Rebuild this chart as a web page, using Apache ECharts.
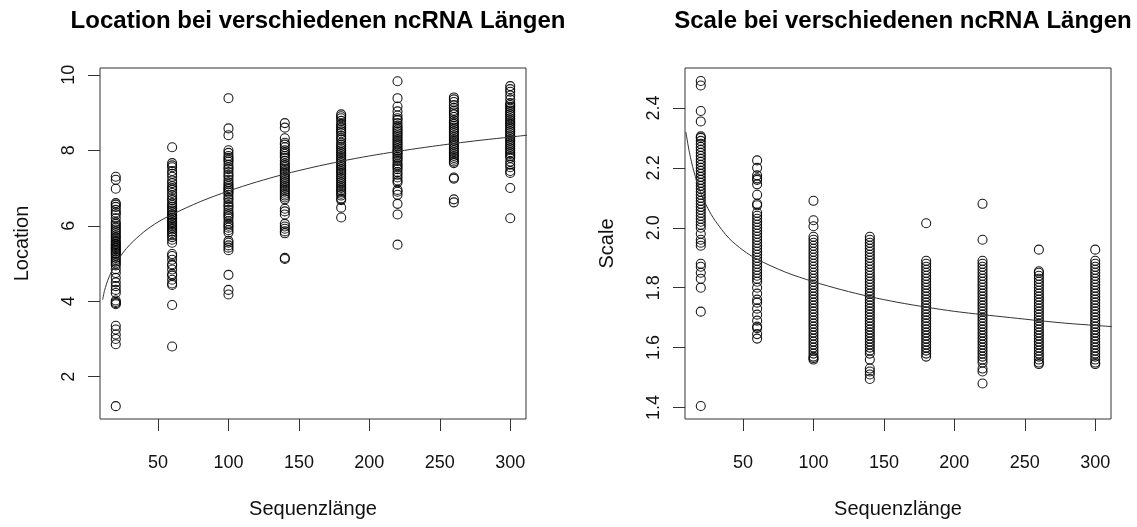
<!DOCTYPE html>
<html>
<head>
<meta charset="utf-8">
<script src="https://cdn.jsdelivr.net/npm/echarts@6/dist/echarts.min.js"></script>
<style>
html,body{margin:0;padding:0;background:#fff;}
#chart{width:1137px;height:527px;}
</style>
</head>
<body>
<div id="chart"></div>
<script>
// ---- data ----
const lengths = [20, 60, 100, 140, 180, 220, 260, 300];
const xTicks = [50, 100, 150, 200, 250, 300];
const locTicks = [2, 4, 6, 8, 10];
const scaleTicks = [1.4, 1.6, 1.8, 2.0, 2.2, 2.4];

const loc20 = [7.3, 7.22, 6.98, 6.6, 6.56, 6.5, 6.42, 6.35, 6.3, 6.2, 6.1, 6.05, 6.0, 5.95, 5.9, 5.85, 5.8, 5.75, 5.7, 5.66, 5.6, 5.56, 5.52, 5.5, 5.46, 5.42, 5.4, 5.36, 5.32, 5.28, 5.25, 5.2, 5.15, 5.1, 5.05, 5.0, 4.95, 4.85, 4.75, 4.62, 4.5, 4.4, 4.3, 4.22, 4.02, 3.98, 3.95, 3.92, 3.35, 3.25, 3.12, 3.0, 2.86, 1.22];
const loc60 = [8.08, 7.66, 7.6, 7.55, 7.45, 7.38, 7.3, 7.2, 7.13, 7.05, 7.0, 6.95, 6.87, 6.8, 6.73, 6.68, 6.6, 6.55, 6.5, 6.45, 6.4, 6.35, 6.3, 6.27, 6.22, 6.2, 6.15, 6.1, 6.07, 6.02, 5.98, 5.94, 5.9, 5.85, 5.81, 5.75, 5.7, 5.63, 5.55, 5.25, 5.2, 5.1, 4.98, 4.95, 4.84, 4.72, 4.68, 4.57, 4.47, 4.43, 3.9, 2.8];
const loc100 = [9.38, 8.58, 8.4, 8.0, 7.93, 7.85, 7.8, 7.75, 7.7, 7.62, 7.55, 7.5, 7.42, 7.35, 7.3, 7.22, 7.15, 7.1, 7.05, 7.0, 6.97, 6.92, 6.88, 6.82, 6.75, 6.7, 6.62, 6.55, 6.5, 6.42, 6.35, 6.3, 6.25, 6.2, 6.12, 6.05, 6.0, 5.95, 5.88, 5.82, 5.6, 5.55, 5.48, 5.42, 5.35, 4.7, 4.3, 4.18];
const loc140 = [8.72, 8.6, 8.32, 8.2, 8.15, 8.08, 8.0, 7.95, 7.9, 7.85, 7.8, 7.72, 7.65, 7.6, 7.55, 7.5, 7.45, 7.4, 7.35, 7.3, 7.25, 7.2, 7.15, 7.1, 7.05, 7.0, 6.95, 6.9, 6.85, 6.8, 6.75, 6.7, 6.45, 6.38, 6.3, 6.05, 5.98, 5.92, 5.85, 5.8, 5.15, 5.12];
const loc180 = [8.95, 8.9, 8.85, 8.78, 8.7, 8.65, 8.6, 8.55, 8.5, 8.45, 8.38, 8.32, 8.28, 8.2, 8.15, 8.1, 8.05, 8.0, 7.95, 7.9, 7.85, 7.8, 7.75, 7.7, 7.65, 7.6, 7.55, 7.5, 7.45, 7.4, 7.35, 7.3, 7.25, 7.2, 7.15, 7.1, 7.05, 7.0, 6.95, 6.9, 6.85, 6.8, 6.72, 6.68, 6.48, 6.22];
const loc220 = [9.83, 9.38, 9.16, 9.03, 8.92, 8.85, 8.8, 8.72, 8.65, 8.6, 8.55, 8.5, 8.45, 8.4, 8.35, 8.3, 8.25, 8.2, 8.15, 8.1, 8.05, 8.0, 7.97, 7.92, 7.88, 7.82, 7.78, 7.72, 7.65, 7.6, 7.55, 7.5, 7.42, 7.35, 7.28, 7.2, 7.15, 6.95, 6.9, 6.82, 6.58, 6.3, 5.5];
const loc260 = [9.4, 9.35, 9.28, 9.2, 9.12, 9.05, 9.0, 8.95, 8.88, 8.8, 8.75, 8.7, 8.65, 8.6, 8.55, 8.5, 8.45, 8.4, 8.35, 8.3, 8.25, 8.2, 8.15, 8.1, 8.05, 8.0, 7.95, 7.9, 7.85, 7.8, 7.75, 7.7, 7.66, 7.28, 7.25, 6.7, 6.62];
const loc300 = [9.7, 9.62, 9.55, 9.45, 9.35, 9.25, 9.2, 9.15, 9.1, 9.05, 9.0, 8.95, 8.9, 8.85, 8.8, 8.75, 8.7, 8.65, 8.6, 8.55, 8.5, 8.45, 8.4, 8.35, 8.3, 8.25, 8.2, 8.15, 8.1, 8.05, 8.0, 7.95, 7.9, 7.85, 7.8, 7.7, 7.62, 7.55, 7.45, 7.4, 7.0, 6.2];

const sc20 = [2.49, 2.475, 2.39, 2.355, 2.305, 2.3, 2.29, 2.28, 2.27, 2.26, 2.25, 2.24, 2.23, 2.22, 2.21, 2.2, 2.19, 2.18, 2.17, 2.16, 2.15, 2.14, 2.13, 2.12, 2.11, 2.1, 2.09, 2.08, 2.07, 2.06, 2.05, 2.04, 2.03, 2.02, 2.01, 2.0, 1.98, 1.96, 1.95, 1.94, 1.88, 1.87, 1.85, 1.83, 1.8, 1.72, 1.405];
const sc60 = [2.225, 2.2, 2.175, 2.165, 2.16, 2.145, 2.11, 2.08, 2.075, 2.05, 2.04, 2.03, 2.02, 2.01, 2.0, 1.99, 1.98, 1.97, 1.96, 1.95, 1.94, 1.93, 1.92, 1.91, 1.9, 1.89, 1.88, 1.87, 1.86, 1.85, 1.84, 1.83, 1.82, 1.8, 1.78, 1.76, 1.75, 1.73, 1.71, 1.69, 1.67, 1.665, 1.645, 1.63];
const sc100 = [2.09, 2.025, 2.005, 1.97, 1.96, 1.95, 1.94, 1.93, 1.92, 1.91, 1.9, 1.89, 1.88, 1.87, 1.86, 1.85, 1.84, 1.83, 1.82, 1.81, 1.8, 1.79, 1.78, 1.77, 1.76, 1.75, 1.74, 1.73, 1.72, 1.71, 1.7, 1.69, 1.68, 1.67, 1.66, 1.65, 1.64, 1.63, 1.62, 1.61, 1.6, 1.59, 1.58, 1.57, 1.565, 1.56];
const sc140 = [1.97, 1.96, 1.95, 1.94, 1.93, 1.92, 1.91, 1.9, 1.89, 1.88, 1.87, 1.86, 1.85, 1.84, 1.83, 1.82, 1.81, 1.8, 1.79, 1.78, 1.77, 1.76, 1.75, 1.74, 1.73, 1.72, 1.71, 1.7, 1.69, 1.68, 1.67, 1.66, 1.65, 1.64, 1.63, 1.62, 1.61, 1.6, 1.59, 1.58, 1.56, 1.53, 1.52, 1.51, 1.495];
const sc180 = [2.015, 1.89, 1.88, 1.87, 1.86, 1.85, 1.84, 1.83, 1.82, 1.81, 1.8, 1.79, 1.78, 1.77, 1.76, 1.75, 1.74, 1.73, 1.72, 1.71, 1.7, 1.69, 1.68, 1.67, 1.66, 1.65, 1.64, 1.63, 1.62, 1.61, 1.6, 1.59, 1.58, 1.57];
const sc220 = [2.08, 1.96, 1.89, 1.88, 1.87, 1.86, 1.85, 1.84, 1.83, 1.82, 1.81, 1.8, 1.79, 1.78, 1.77, 1.76, 1.75, 1.74, 1.73, 1.72, 1.71, 1.7, 1.69, 1.68, 1.67, 1.66, 1.65, 1.64, 1.63, 1.62, 1.61, 1.6, 1.59, 1.58, 1.57, 1.56, 1.55, 1.53, 1.52, 1.48];
const sc260 = [1.927, 1.855, 1.85, 1.84, 1.83, 1.82, 1.81, 1.8, 1.79, 1.78, 1.77, 1.76, 1.75, 1.74, 1.73, 1.72, 1.71, 1.7, 1.69, 1.68, 1.67, 1.66, 1.65, 1.64, 1.63, 1.62, 1.61, 1.6, 1.59, 1.58, 1.57, 1.56, 1.55, 1.545];
const sc300 = [1.927, 1.89, 1.88, 1.87, 1.86, 1.85, 1.84, 1.83, 1.82, 1.81, 1.8, 1.79, 1.78, 1.77, 1.76, 1.75, 1.74, 1.73, 1.72, 1.71, 1.7, 1.69, 1.68, 1.67, 1.66, 1.65, 1.64, 1.63, 1.62, 1.61, 1.6, 1.59, 1.58, 1.57, 1.56, 1.55, 1.545];

// fitted curves
const locCurveX = [10.7, 12, 15, 20, 25, 30, 40, 50, 60, 80, 100, 120, 140, 160, 180, 200, 220, 240, 260, 280, 300, 312];
const locCurveY = [4.04, 4.28, 4.62, 5.0, 5.28, 5.5, 5.84, 6.1, 6.3, 6.64, 6.92, 7.16, 7.37, 7.55, 7.71, 7.85, 7.97, 8.08, 8.18, 8.27, 8.35, 8.4];
const scCurveX = [9.4, 12, 15, 20, 25, 30, 40, 50, 60, 80, 100, 120, 140, 160, 180, 200, 220, 240, 260, 280, 300, 312];
const scCurveY = [2.32, 2.25, 2.19, 2.115, 2.065, 2.025, 1.965, 1.925, 1.895, 1.852, 1.82, 1.793, 1.77, 1.751, 1.735, 1.721, 1.71, 1.70, 1.69, 1.681, 1.674, 1.67];

const locCols = [loc20, loc60, loc100, loc140, loc180, loc220, loc260, loc300];
const scCols = [sc20, sc60, sc100, sc140, sc180, sc220, sc260, sc300];

function pairs(cols) {
  const out = [];
  cols.forEach((col, i) => col.forEach(v => out.push([lengths[i], v])));
  return out;
}
function zip(xs, ys) { return xs.map((x, i) => [x, ys[i]]); }

const FONT = '"Liberation Sans", Helvetica, Arial, sans-serif';
const INK = '#111';

function xAxisDef(gi) {
  return {
    type: 'value', gridIndex: gi, min: 8.8, max: 311.2,
    name: 'Sequenzlänge', nameLocation: 'middle', nameGap: 80,
    nameTextStyle: { fontFamily: FONT, fontSize: 20, color: INK },
    axisLine: { show: false },
    axisTick: { show: true, length: 12, customValues: xTicks, lineStyle: { color: '#333', width: 1 } },
    axisLabel: { customValues: xTicks, margin: 35, fontFamily: FONT, fontSize: 18, color: INK },
    splitLine: { show: false }
  };
}
function yAxisDef(gi, name, min, max, ticks, gap, margin) {
  return {
    type: 'value', gridIndex: gi, min: min, max: max,
    name: name, nameLocation: 'middle', nameGap: gap,
    nameTextStyle: { fontFamily: FONT, fontSize: 20, color: INK },
    axisLine: { show: false },
    axisTick: { show: true, length: 12, customValues: ticks, lineStyle: { color: '#333', width: 1 } },
    axisLabel: { customValues: ticks, rotate: 90, margin: margin, fontFamily: FONT, fontSize: 18, color: INK,
      formatter: v => (gi === 1 ? v.toFixed(1) : String(v)) },
    splitLine: { show: false }
  };
}

const circleStyle = { color: 'rgba(0,0,0,0)', borderColor: '#000', borderWidth: 1.1, opacity: 0.9 };

const chart = echarts.init(document.getElementById('chart'));
chart.setOption({
  animation: false,
  backgroundColor: '#fff',
  title: [
    { text: 'Location bei verschiedenen ncRNA Längen', left: 313, top: 4, textAlign: 'center',
      textStyle: { fontFamily: FONT, fontSize: 24, fontWeight: 'bold', color: '#000' } },
    { text: 'Scale bei verschiedenen ncRNA Längen', left: 898, top: 4, textAlign: 'center',
      textStyle: { fontFamily: FONT, fontSize: 24, fontWeight: 'bold', color: '#000' } }
  ],
  grid: [
    { left: 100, top: 68, width: 426, height: 351, show: true, borderColor: '#333', borderWidth: 1, backgroundColor: 'transparent' },
    { left: 685, top: 68, width: 426, height: 351, show: true, borderColor: '#333', borderWidth: 1, backgroundColor: 'transparent' }
  ],
  xAxis: [xAxisDef(0), xAxisDef(1)],
  yAxis: [
    yAxisDef(0, 'Location', 0.88, 10.18, locTicks, 68, 22),
    yAxisDef(1, 'Scale', 1.3616, 2.5334, scaleTicks, 68, 22)
  ],
  series: [
    { type: 'scatter', xAxisIndex: 0, yAxisIndex: 0, data: pairs(locCols), symbol: 'circle', symbolSize: 9,
      itemStyle: circleStyle, silent: true },
    { type: 'line', xAxisIndex: 0, yAxisIndex: 0, data: zip(locCurveX, locCurveY), smooth: 0.3, showSymbol: false, symbol: 'none',
      lineStyle: { color: '#333', width: 1 }, silent: true, clip: true },
    { type: 'scatter', xAxisIndex: 1, yAxisIndex: 1, data: pairs(scCols), symbol: 'circle', symbolSize: 9,
      itemStyle: circleStyle, silent: true },
    { type: 'line', xAxisIndex: 1, yAxisIndex: 1, data: zip(scCurveX, scCurveY), smooth: 0.3, showSymbol: false, symbol: 'none',
      lineStyle: { color: '#333', width: 1 }, silent: true, clip: true }
  ]
});
</script>
</body>
</html>
